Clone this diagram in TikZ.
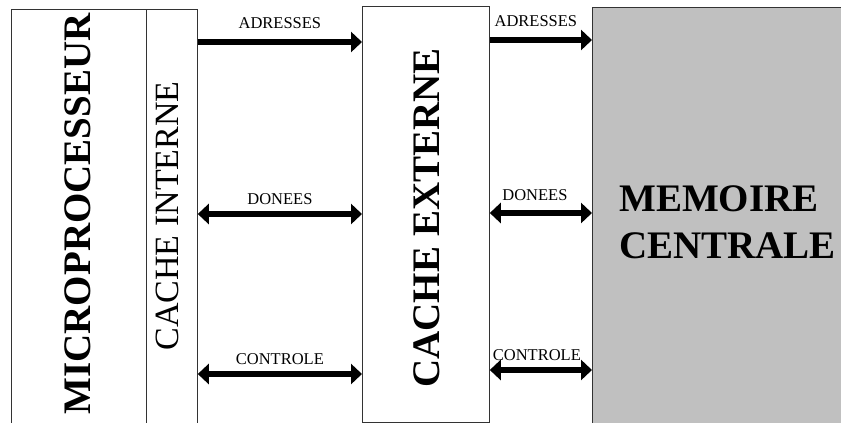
\documentclass[tikz,border=0pt]{standalone}
\usepackage{fontspec}
\setmainfont{Liberation Serif}
\usetikzlibrary{arrows.meta}
\definecolor{memgray}{HTML}{C0C0C0}

\begin{document}
\begin{tikzpicture}[x=1pt,y=-1pt,
    box/.style={draw=black!80,line width=0.8pt,anchor=north west,inner sep=0pt},
    big/.style={font=\fontsize{39}{47}\selectfont\bfseries,inner sep=0pt},
    lbl/.style={font=\fontsize{16.5}{20}\selectfont,inner sep=0pt},
    bus/.style={line width=6pt,-{Triangle[length=11pt,width=20pt]}},
    dbus/.style={line width=6pt,{Triangle[length=11pt,width=20pt]}-{Triangle[length=11pt,width=20pt]}}]
    \useasboundingbox (0,0) rectangle (841,423);
    \clip (0,0) rectangle (841,423);
    % blocs
    \node[box,minimum width=135pt,minimum height=430pt] (micro) at (11,9) {};
    \node[box,minimum width=51pt,minimum height=430pt] (cint) at (146,9) {};
    \node[box,minimum width=127pt,minimum height=416pt] (cext) at (362,6) {};
    \node[box,fill=memgray,minimum width=260pt,minimum height=430pt] (memc) at (592,7) {};
    \node[big,rotate=90] (micro-t) at (77.5,214) {MICROPROCESSEUR};
    \node[rotate=90,inner sep=0pt,font=\fontsize{34}{40}\selectfont] (cint-t) at (167,216) {CACHE INTERNE};
    \node[big,rotate=90] (cext-t) at (426.5,218) {CACHE EXTERNE};
    \node[big,align=left,anchor=west] (memc-t) at (619,222) {MEMOIRE\\CENTRALE};
    % bus
    \draw[bus] (cint.east |- 0,42) -- (cext.west |- 0,42) node[lbl,midway,above=10pt] (adr1) {ADRESSES};
    \draw[dbus] (cint.east |- 0,214) -- (cext.west |- 0,214) node[lbl,midway,above=6pt] (don1) {DONEES};
    \draw[dbus] (cint.east |- 0,374) -- (cext.west |- 0,374) node[lbl,midway,above=6pt] (ctl1) {CONTROLE};
    \draw[bus] (cext.east |- 0,40) -- (memc.west |- 0,40) node[lbl,midway,above=10pt,xshift=-5pt] (adr2) {ADRESSES};
    \draw[dbus] (cext.east |- 0,213) -- (memc.west |- 0,213) node[lbl,midway,above=9pt,xshift=-6pt] (don2) {DONEES};
    \draw[dbus] (cext.east |- 0,370) -- (memc.west |- 0,370) node[lbl,midway,above=6pt,xshift=-4pt] (ctl2) {CONTROLE};
\end{tikzpicture}
\end{document}
